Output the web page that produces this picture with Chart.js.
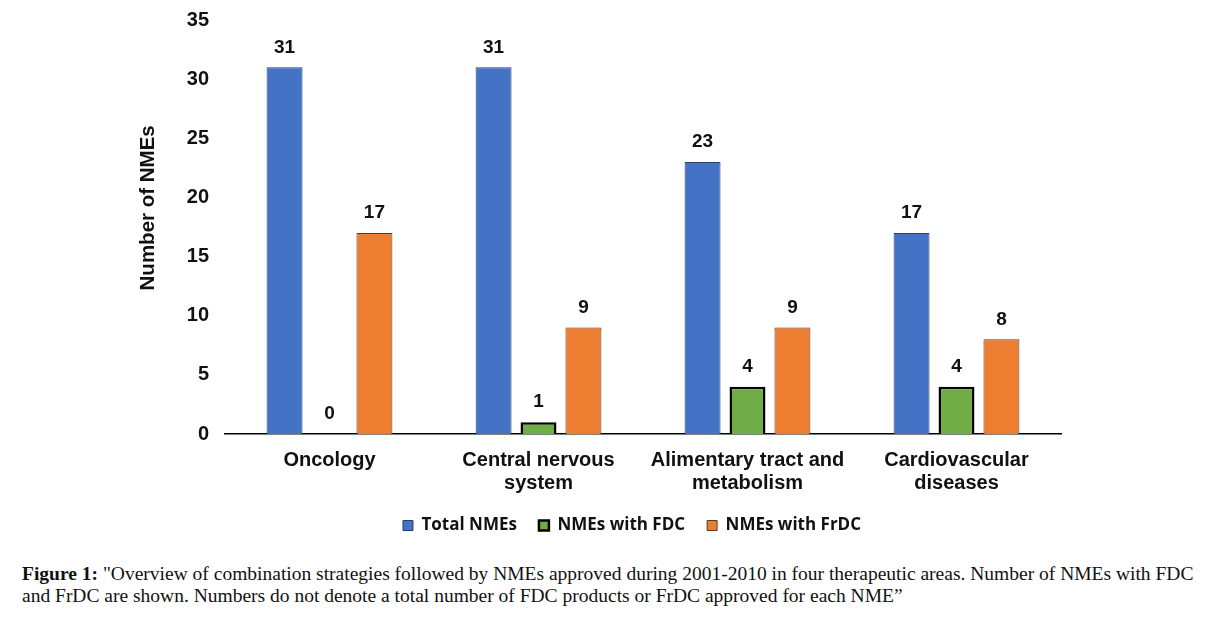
<!DOCTYPE html>
<html>
<head>
<meta charset="utf-8">
<script src="https://cdn.jsdelivr.net/npm/chart.js@4.4.1/dist/chart.umd.min.js"></script>
<style>
  html, body { margin: 0; padding: 0; background: #fff; }
  body { width: 1213px; height: 617px; position: relative; overflow: hidden; }
  #wrap { position: absolute; left: 0; top: -8px; width: 1213px; height: 558px; }
  #caption { position: absolute; left: 22px; top: 563px; width: 1191px; white-space: nowrap;
    font-family: "Liberation Serif", "DejaVu Serif", serif; font-size: 19.5px; line-height: 22px; color: #111; }
</style>
</head>
<body>
<div id="wrap"><canvas id="c"></canvas></div>
<div id="caption"><b>Figure 1:</b> "Overview of combination strategies followed by NMEs approved during 2001-2010 in four therapeutic areas. Number of NMEs with FDC<br>and FrDC are shown. Numbers do not denote a total number of FDC products or FrDC approved for each NME”</div>
<script>
const categories = [["Oncology"], ["Central nervous", "system"], ["Alimentary tract and", "metabolism"], ["Cardiovascular", "diseases"]];
const totalNMEs = [31, 31, 23, 17];
const nmesWithFDC = [0, 1, 4, 4];
const nmesWithFrDC = [17, 9, 9, 8];
const seriesNames = ["Total NMEs", "NMEs with FDC", "NMEs with FrDC"];
const yTicks = [0, 5, 10, 15, 20, 25, 30, 35];
const yTitle = "Number of NMEs";

const valueLabels = {
  id: 'valueLabels',
  afterDatasetsDraw(chart) {
    const ctx = chart.ctx;
    ctx.save();
    ctx.font = 'bold 19px "Liberation Sans", Arial, sans-serif';
    ctx.fillStyle = '#111';
    ctx.textAlign = 'center';
    ctx.textBaseline = 'middle';
    chart.data.datasets.forEach((ds, i) => {
      chart.getDatasetMeta(i).data.forEach((bar, j) => {
        ctx.fillText(String(ds.data[j]), bar.x, bar.y - 20);
      });
    });
    ctx.restore();
  }
};

const legendShift = {
  id: 'legendShift',
  afterLayout(chart) {
    if (chart.legend) { chart.legend.left -= 11; chart.legend.right -= 11; }
  }
};

new Chart(document.getElementById('c'), {
  type: 'bar',
  data: {
    labels: categories,
    datasets: [
      { label: seriesNames[0], data: totalNMEs, backgroundColor: '#4472C4', borderColor: '#2b3f66', borderWidth: 1 },
      { label: seriesNames[1], data: nmesWithFDC, backgroundColor: '#70AD47', borderColor: '#000', borderWidth: 2.5 },
      { label: seriesNames[2], data: nmesWithFrDC, backgroundColor: '#ED7D31', borderColor: '#5a3a20', borderWidth: 1 }
    ]
  },
  options: {
    responsive: true,
    maintainAspectRatio: false,
    animation: false,
    categoryPercentage: 0.645,
    barPercentage: 0.8,
    layout: { padding: { left: 136, right: 152, top: 5, bottom: 6 } },
    plugins: {
      tooltip: { enabled: false },
      legend: {
        position: 'bottom',
        fullSize: false,
        labels: {
          boxWidth: 10, boxHeight: 10, padding: 22,
          color: '#111',
          font: { family: '"Open Sans", "Liberation Sans", sans-serif', size: 17, weight: 'bold' }
        }
      }
    },
    scales: {
      x: {
        afterFit(scale) { scale.height = 61; },
        grid: { display: false, drawTicks: false },
        border: { display: true, color: '#000', width: 1.5 },
        ticks: { color: '#111', padding: 14.5, font: { family: '"Liberation Sans", Arial, sans-serif', size: 20, weight: 'bold', lineHeight: 1.15 } }
      },
      y: {
        min: 0, max: 35,
        afterBuildTicks(scale) { scale.ticks = yTicks.map(v => ({ value: v })); },
        afterFit(scale) { scale.width = 89; },
        grid: { display: false, drawTicks: false },
        border: { display: false },
        ticks: { color: '#111', padding: 16, font: { family: '"Liberation Sans", Arial, sans-serif', size: 20, weight: 'bold' } },
        title: { display: true, text: '      \u2009' + yTitle, color: '#111', padding: { top: 0, bottom: 0 },
          font: { family: '"Liberation Sans", Arial, sans-serif', size: 20.5, weight: 'bold' } }
      }
    }
  },
  plugins: [valueLabels, legendShift]
});
</script>
</body>
</html>
